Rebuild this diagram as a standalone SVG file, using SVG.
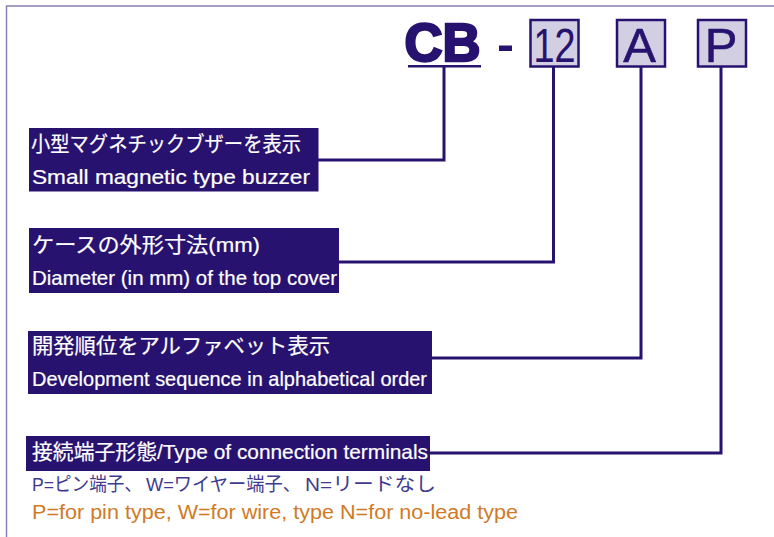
<svg xmlns="http://www.w3.org/2000/svg" width="774" height="537" viewBox="0 0 774 537">
<style>
text{font-family:"Liberation Sans","Noto Sans CJK JP",sans-serif}
.box{fill:#d3cfe3;stroke:#28126f;stroke-width:2.5}
.big{font-size:49px;fill:#28126f;stroke:#28126f;stroke-width:.6;text-anchor:middle}
.bar{fill:#28126f}
.w{fill:#fff;stroke:#fff;stroke-width:.2;font-size:21px}
.c{fill:none;stroke:#28126f;stroke-width:3}
</style>
<path d="M6.500 537V6H774" fill="none" stroke="#8b7db5" stroke-width="1.500"/>
<g id="connectors">
<path class="c" d="M444 67V160H318"/>
<path class="c" d="M553.500 67V262H339"/>
<path class="c" d="M641 67V358H432"/>
<path class="c" d="M721 67V453H430"/>
</g>
<g id="code-cb">
<text x="442.500" y="60.500" font-size="53" font-weight="bold" stroke="#28126f" stroke-width="2.500" fill="#28126f" text-anchor="middle" textLength="76" lengthAdjust="spacingAndGlyphs">CB</text>
<rect class="bar" x="408" y="65" width="73" height="2.500"/>
<rect class="bar" x="499" y="45.500" width="13" height="5.500"/>
</g>
<g id="code-12">
<rect class="box" x="530.500" y="20" width="48" height="46.500"/>
<text class="big" x="554.500" y="62" textLength="42" lengthAdjust="spacingAndGlyphs" style="stroke-width:.2">12</text>
</g>
<g id="code-a">
<rect class="box" x="617" y="20" width="48" height="46.500"/>
<text class="big" x="639.500" y="62">A</text>
</g>
<g id="code-p">
<rect class="box" x="698" y="20" width="48" height="46.500"/>
<text class="big" x="721" y="62">P</text>
</g>
<g id="label-type">
<rect class="bar" x="29" y="128" width="289.500" height="63.500"/>
<text class="w" x="31" y="151" textLength="270" lengthAdjust="spacingAndGlyphs">小型マグネチックブザーを表示</text>
<text class="w" x="32" y="184" textLength="278" lengthAdjust="spacingAndGlyphs">Small magnetic type buzzer</text>
</g>
<g id="label-size">
<rect class="bar" x="29" y="228" width="310" height="65"/>
<text class="w" x="32" y="252" textLength="228" lengthAdjust="spacingAndGlyphs">ケースの外形寸法(mm)</text>
<text class="w" x="32" y="285" textLength="305" lengthAdjust="spacingAndGlyphs">Diameter (in mm) of the top cover</text>
</g>
<g id="label-seq">
<rect class="bar" x="28" y="331" width="404" height="63"/>
<text class="w" x="32" y="353" textLength="298" lengthAdjust="spacingAndGlyphs">開発順位をアルファベット表示</text>
<text class="w" x="32" y="386" textLength="395" lengthAdjust="spacingAndGlyphs">Development sequence in alphabetical order</text>
</g>
<g id="label-term">
<rect class="bar" x="26" y="436" width="404" height="35"/>
<text class="w" x="32" y="459" textLength="396" lengthAdjust="spacingAndGlyphs">接続端子形態/Type of connection terminals</text>
<text x="32" y="491" font-size="19" fill="#3f3a8f"><tspan x="32" textLength="110" lengthAdjust="spacingAndGlyphs">P=ピン端子、</tspan><tspan x="146" textLength="155" lengthAdjust="spacingAndGlyphs">W=ワイヤー端子、</tspan><tspan x="305" textLength="131" lengthAdjust="spacingAndGlyphs">N=リードなし</tspan></text>
<text x="32" y="519" font-size="20" fill="#d07a26" textLength="486" lengthAdjust="spacingAndGlyphs">P=for pin type, W=for wire, type N=for no-lead type</text>
</g>
</svg>
